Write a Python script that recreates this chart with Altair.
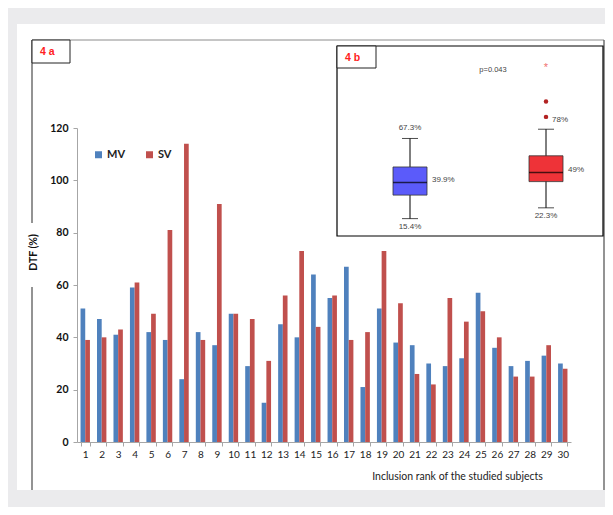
import altair as alt
import pandas as pd
import numpy as np

# ---------------- data ----------------
subjects = [str(i) for i in range(1, 31)]
mv = [51, 47, 41, 59, 42, 39, 24, 42, 37, 49, 29, 15, 45, 40, 64,
      55, 67, 21, 51, 38, 37, 30, 29, 32, 57, 36, 29, 31, 33, 30]
sv = [39, 40, 43, 61, 49, 81, 114, 39, 91, 49, 47, 31, 56, 73, 44,
      56, 39, 42, 73, 53, 26, 22, 55, 46, 50, 40, 25, 25, 37, 28]
series = ["MV", "SV"]
y_ticks = [0, 20, 40, 60, 80, 100, 120]

# inset labels (as printed in the figure)
high_labels = {"MV": "67.3%"}
outlier_labels = {"SV": "78%"}
median_labels = {"MV": "39.9%", "SV": "49%"}
low_labels = {"MV": "15.4%", "SV": "22.3%"}
p_text = "p=0.043"

bar_colors = ["#4F81BD", "#C0504D"]
box_colors = ["#5B5BFA", "#EE3338"]

# ---------------- tables ----------------
df = pd.DataFrame({
    "subject": subjects * 2,
    "series": ["MV"] * len(mv) + ["SV"] * len(sv),
    "value": mv + sv,
})

rows, outs, exts = [], [], []
for g, vals in zip(series, [mv, sv]):
    a = np.array(vals, dtype=float)
    q1, med, q3 = np.percentile(a, [25, 50, 75])
    iqr = q3 - q1
    lo = a[a >= q1 - 1.5 * iqr].min()
    hi = a[a <= q3 + 1.5 * iqr].max()
    rows.append({"group": g, "q1": q1, "med": med, "q3": q3, "lo": lo, "hi": hi,
                 "hlab": high_labels.get(g, ""), "mlab": median_labels.get(g, ""),
                 "llab": low_labels.get(g, "")})
    mild = a[((a > q3 + 1.5 * iqr) & (a <= q3 + 3 * iqr)) | ((a < q1 - 1.5 * iqr) & (a >= q1 - 3 * iqr))]
    ext = a[(a > q3 + 3 * iqr) | (a < q1 - 3 * iqr)]
    for i, v in enumerate(sorted(mild)):
        outs.append({"group": g, "v": v, "lab": outlier_labels.get(g, "") if i == 0 else ""})
    for v in ext:
        exts.append({"group": g, "v": v})
box_df = pd.DataFrame(rows)
out_df = pd.DataFrame(outs)
ext_df = pd.DataFrame(exts)
dummy = pd.DataFrame({"d": [0]})

W, H = 494, 314

# ---------------- decorations ----------------
def rect(x, x2, y, y2, fill="white", stroke=None, sw=1):
    kw = {"fill": fill}
    if stroke:
        kw["stroke"] = stroke
        kw["strokeWidth"] = sw
    return alt.Chart(dummy).mark_rect(**kw).encode(
        x=alt.value(x), x2=alt.value(x2), y=alt.value(y), y2=alt.value(y2))

def rule(x, x2, y, y2, color="#595959", sw=1):
    return alt.Chart(dummy).mark_rule(color=color, strokeWidth=sw).encode(
        x=alt.value(x), x2=alt.value(x2), y=alt.value(y), y2=alt.value(y2))

panel = rect(-60, 533, -104, 362)
frame_top = rule(-45, 527, -88, -88, color="#8C8C8C")
frame_left1 = rule(-45, -45, -88, 95, color="#595959", sw=1.3)
frame_left2 = rule(-45, -45, 159, 362, color="#595959", sw=1.3)
frame_right = rule(527, 527, -88, 362, color="#595959", sw=1.3)

# ---------------- main bars ----------------
bars = alt.Chart(df).mark_bar().encode(
    x=alt.X("subject:N", sort=subjects,
            scale=alt.Scale(paddingInner=0.43, paddingOuter=0.215),
            axis=alt.Axis(title="Inclusion rank of the studied subjects", labelAngle=0,
                          tickBand="extent", grid=False, zindex=2,
                          domainColor="#A6A6A6", tickColor="#A6A6A6", tickSize=4,
                          labelFont="Lato", labelFontSize=10, labelColor="#222222",
                          labelPadding=3,
                          titleFont="Lato", titleFontSize=10.5, titleFontWeight="normal",
                          titleColor="#222222", titleX=380, titleY=34,
                          titleAlign="center", titleBaseline="middle")),
    xOffset=alt.XOffset("series:N", sort=series),
    y=alt.Y("value:Q", scale=alt.Scale(domain=[0, 120], nice=False),
            axis=alt.Axis(values=y_ticks, title="DTF (%)", grid=False, zindex=2,
                          domainColor="#A6A6A6", tickColor="#A6A6A6", tickSize=4,
                          labelFont="Lato", labelFontSize=10.5, labelFontWeight="bold",
                          labelColor="#111111", labelPadding=5,
                          titleFont="Lato", titleFontSize=10.5, titleFontWeight="bold",
                          titleColor="#111111", titleX=-44, titleY=124,
                          titleAlign="center", titleBaseline="middle", titleAngle=-90)),
    color=alt.Color("series:N",
                    scale=alt.Scale(domain=series, range=bar_colors),
                    legend=alt.Legend(orient="none", legendX=16, legendY=21,
                                      direction="horizontal", title=None,
                                      symbolType="square", symbolSize=49,
                                      symbolStrokeWidth=0,
                                      labelFont="Lato", labelFontSize=11,
                                      labelFontWeight="bold", labelColor="#222222",
                                      labelOffset=3, columnPadding=18, padding=0)),
)

# ---------------- label boxes ----------------
box4a = rect(-45, -7, -88, -65, stroke="#222222", sw=1)
txt4a = alt.Chart(dummy).mark_text(text="4 a", color="#FF2020", font="Liberation Sans",
                                   fontWeight="bold", fontSize=10.5, align="left",
                                   baseline="middle").encode(x=alt.value(-37), y=alt.value(-76))

# ---------------- inset (4 b) ----------------
inset_bg = rect(260, 526, -82, 108, stroke="#000000", sw=1.2)
box4b = rect(260, 299, -82, -60, stroke="#222222", sw=1)
txt4b = alt.Chart(dummy).mark_text(text="4 b", color="#FF2020", font="Liberation Sans",
                                   fontWeight="bold", fontSize=10.5, align="left",
                                   baseline="middle").encode(x=alt.value(268), y=alt.value(-70))
ptxt = alt.Chart(dummy).mark_text(text=p_text, color="#444444", font="Liberation Sans",
                                  fontSize=7.5, align="center",
                                  baseline="middle").encode(x=alt.value(416), y=alt.value(-58))

ix = alt.X("group:N", scale=alt.Scale(type="point", domain=series, range=[333, 469], padding=0),
           axis=None)
iys = alt.Scale(domain=[0, 120], range=[113.74, -71.23], nice=False, zero=False)

def iy(field):
    return alt.Y(field, scale=iys, axis=None)

whisk = alt.Chart(box_df).mark_rule(color="black", strokeWidth=1).encode(
    x=ix, y=iy("lo:Q"), y2="hi:Q")
cap_lo = alt.Chart(box_df).mark_tick(size=16, thickness=1, color="black").encode(x=ix, y=iy("lo:Q"))
cap_hi = alt.Chart(box_df).mark_tick(size=16, thickness=1, color="black").encode(x=ix, y=iy("hi:Q"))
boxes = alt.Chart(box_df).mark_bar(size=34, stroke="#333333", strokeWidth=0.8).encode(
    x=ix, y=iy("q1:Q"), y2="q3:Q",
    color=alt.Color("group:N", scale=alt.Scale(domain=series, range=box_colors), legend=None))
medians = alt.Chart(box_df).mark_tick(size=34, thickness=1.5, color="black").encode(
    x=ix, y=iy("med:Q"))
outliers = alt.Chart(out_df).mark_circle(size=20, color="#B22222", opacity=1).encode(
    x=ix, y=iy("v:Q"))
extremes = alt.Chart(ext_df).mark_text(text="*", color="#F07070", fontSize=11,
                                       baseline="middle", dy=2).encode(x=ix, y=iy("v:Q"))

lab_style = dict(color="#444444", font="Liberation Sans", fontSize=8, baseline="middle")
hlabs = alt.Chart(box_df).mark_text(align="center", dy=-10, **lab_style).encode(
    x=ix, y=iy("hi:Q"), text="hlab:N")
llabs = alt.Chart(box_df).mark_text(align="center", dy=8, **lab_style).encode(
    x=ix, y=iy("lo:Q"), text="llab:N")
mlabs = alt.Chart(box_df).mark_text(align="left", dx=22, dy=-2, **lab_style).encode(
    x=ix, y=iy("med:Q"), text="mlab:N")
olabs = alt.Chart(out_df).mark_text(align="left", dx=6, dy=3, **lab_style).encode(
    x=ix, y=iy("v:Q"), text="lab:N")

chart = alt.layer(
    panel, frame_top, frame_left1, frame_left2, frame_right,
    bars, box4a, txt4a,
    inset_bg, box4b, txt4b, ptxt,
    whisk, cap_lo, cap_hi, boxes, medians, outliers, extremes,
    hlabs, llabs, mlabs, olabs,
).resolve_scale(
    x="independent", y="independent", color="independent"
).properties(
    width=W, height=H,
    autosize=alt.AutoSizeParams(type="none"),
    padding={"left": 69, "top": 120, "right": 34, "bottom": 65},
).configure(
    background="#EBEBED"
).configure_view(stroke=None)

chart.save("out.html", embed_options={"renderer": "svg", "actions": False})
